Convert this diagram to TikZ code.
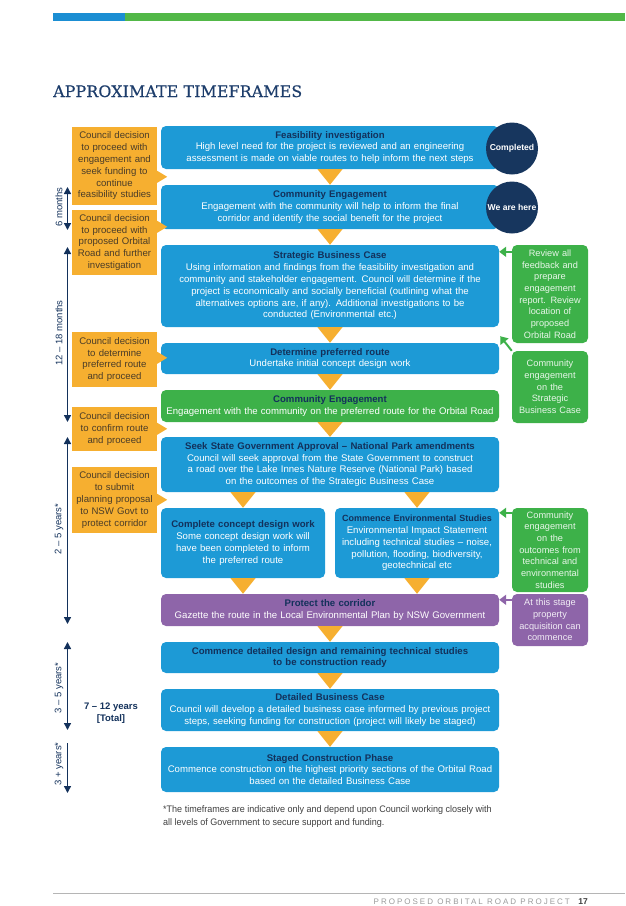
\documentclass[tikz,border=0pt]{standalone}
\usepackage{fontspec}
\setmainfont{Liberation Sans}
\newfontfamily\titlefont[LetterSpace=1,FakeBold=0.6]{DejaVu Serif}
\newfontfamily\condfont[FakeStretch=0.95]{Liberation Sans}
\newfontfamily\footfont[LetterSpace=25]{Liberation Sans}
\usetikzlibrary{arrows.meta,calc}
\definecolor{cbarblue}{HTML}{1B8ED3}
\definecolor{cbargreen}{HTML}{52B848}
\definecolor{ctitle}{HTML}{1D3D6B}
\definecolor{cblue}{HTML}{1D9AD6}
\definecolor{cnavy}{HTML}{13315B}
\definecolor{corange}{HTML}{F6AF30}
\definecolor{corangetext}{HTML}{4A3C28}
\definecolor{cgreen}{HTML}{3DB149}
\definecolor{cpurple}{HTML}{8E65A9}
\definecolor{ccircle}{HTML}{17365E}
\definecolor{cfoot}{HTML}{3F3F3F}
\definecolor{cfooter}{HTML}{9A9A9A}
\definecolor{cline}{HTML}{B5B5B5}
\newcommand\ttl[1]{\textcolor{cnavy}{\bfseries #1}}
\newcommand\flowtri[2]{\fill[corange] ($(#1)+(-12.5,0)$) -- ($(#1)+(12.5,0)$) -- (#2) -- cycle;}
\begin{document}
\begin{tikzpicture}[x=1pt,y=-1pt,
  blk/.style={inner sep=0pt, align=center, font=\fontsize{9.6}{11.8}\selectfont},
  bluebox/.style={blk, fill=cblue, text=white, rounded corners=5pt},
  greenbox/.style={blk, fill=cgreen, text=white, rounded corners=5pt},
  purplebox/.style={blk, fill=cpurple, text=white, rounded corners=5pt},
  orangebox/.style={blk, fill=corange, text=corangetext, minimum width=85pt, text width=85pt},
  sidegreen/.style={blk, fill=cgreen, text=white!88!cgreen, rounded corners=5pt, minimum width=76pt, text width=76pt, font=\fontsize{9.2}{11.7}\selectfont},
  sidepurple/.style={sidegreen, fill=cpurple, text=white!88!cpurple},
  wide/.style={minimum width=338pt, text width=338pt},
  half/.style={minimum width=164pt, text width=164pt},
  badge/.style={circle, fill=ccircle, minimum size=52pt, inner sep=0pt, text=white, font=\bfseries\fontsize{8.6}{10}\selectfont},
  tarrow/.style={cnavy, line width=1.5pt, {Triangle[length=7pt,width=7pt]}-{Triangle[length=7pt,width=7pt]}},
  tarrowend/.style={cnavy, line width=1.5pt, -{Triangle[length=7pt,width=7pt]}},
  tlabel/.style={rotate=90, inner sep=0pt, text=cnavy, font=\fontsize{9.5}{11}\selectfont},
  garrow/.style={cgreen, line width=2pt, -{Triangle[length=7pt,width=10pt]}},
  parrow/.style={cpurple, line width=2pt, -{Triangle[length=7pt,width=10pt]}}
]
\useasboundingbox (0,0) rectangle (625,906);

% top bar
\fill[cbarblue] (53,13) rectangle (125,21);
\fill[cbargreen] (125,13) rectangle (625,21);

% title
\node[anchor=base west, inner sep=0pt, text=ctitle, font=\titlefont\fontsize{15.8}{18}\selectfont] (title) at (53,97) {APPROXIMATE TIMEFRAMES};

% central flow
\node[bluebox, wide, minimum height=43pt] (feas) at (330,147.5) {\ttl{Feasibility investigation}\\High level need for the project is reviewed and an engineering\\assessment is made on viable routes to help inform the next steps};
\node[bluebox, wide, minimum height=44pt] (ce1) at (330,207) {\ttl{Community Engagement}\\Engagement with the community will help to inform the final\\corridor and identify the social benefit for the project};
\node[bluebox, wide, minimum height=82pt] (sbc) at (330,286) {\ttl{Strategic Business Case}\\Using information and findings from the feasibility investigation and\\community and stakeholder engagement. Council will determine if the\\project is economically and socially beneficial (outlining what the\\alternatives options are, if any). Additional investigations to be\\conducted (Environmental etc.)};
\node[bluebox, wide, minimum height=31pt] (dpr) at (330,358.5) {\ttl{Determine preferred route}\\Undertake initial concept design work};
\node[greenbox, wide, minimum height=32pt] (ce2) at (330,406) {\ttl{Community Engagement}\\Engagement with the community on the preferred route for the Orbital Road};
\node[bluebox, wide, minimum height=55pt] (seek) at (330,464.5) {\ttl{Seek State Government Approval – National Park amendments}\\Council will seek approval from the State Government to construct\\a road over the Lake Innes Nature Reserve (National Park) based\\on the outcomes of the Strategic Business Case};
\node[bluebox, half, minimum height=70pt] (ccd) at (243,543) {\ttl{Complete concept design work}\\Some concept design work will\\have been completed to inform\\the preferred route};
\node[bluebox, half, minimum height=70pt] (ces) at (417,543) {{\fontsize{9}{11.8}\selectfont\ttl{Commence Environmental Studies}}\\Environmental Impact Statement\\including technical studies – noise,\\pollution, flooding, biodiversity,\\geotechnical etc};
\node[purplebox, wide, minimum height=32pt] (prot) at (330,610) {\ttl{Protect the corridor}\\Gazette the route in the Local Environmental Plan by NSW Government};
\node[bluebox, wide, minimum height=31pt] (cdd) at (330,657.5) {\ttl{Commence detailed design and remaining technical studies}\\\ttl{to be construction ready}};
\node[bluebox, wide, minimum height=42pt] (dbc) at (330,710) {\ttl{Detailed Business Case}\\Council will develop a detailed business case informed by previous project\\steps, seeking funding for construction (project will likely be staged)};
\node[bluebox, wide, minimum height=45pt] (scp) at (330,769.5) {\ttl{Staged Construction Phase}\\Commence construction on the highest priority sections of the Orbital Road\\based on the detailed Business Case};

% flow triangles
\flowtri{feas.south}{ce1.north}
\flowtri{ce1.south}{sbc.north}
\flowtri{sbc.south}{dpr.north}
\flowtri{dpr.south}{ce2.north}
\flowtri{ce2.south}{seek.north}
\coordinate (sa) at (seek.south -| ccd.north);
\coordinate (sb) at (seek.south -| ces.north);
\flowtri{sa}{ccd.north}
\flowtri{sb}{ces.north}
\coordinate (pa) at (prot.north -| ccd.south);
\coordinate (pb) at (prot.north -| ces.south);
\flowtri{ccd.south}{pa}
\flowtri{ces.south}{pb}
\flowtri{prot.south}{cdd.north}
\flowtri{cdd.south}{dbc.north}
\flowtri{dbc.south}{scp.north}

% status badges
\node[badge] (done) at (512,148.5) {Completed};
\node[badge] (here) at (512,207.5) {We are here};

% council decisions
\node[orangebox, minimum height=78pt] (o1) at (114.5,166) {Council decision\\to proceed with\\engagement and\\seek funding to\\continue\\feasibility studies};
\node[orangebox, minimum height=65pt] (o2) at (114.5,242.5) {Council decision\\to proceed with\\proposed Orbital\\Road and further\\investigation};
\node[orangebox, minimum height=55pt] (o3) at (114.5,359.5) {Council decision\\to determine\\preferred route\\and proceed};
\node[orangebox, minimum height=44pt] (o4) at (114.5,429) {Council decision\\to confirm route\\and proceed};
\node[orangebox, minimum height=66pt] (o5) at (114.5,500) {Council decision\\to submit\\planning proposal\\to NSW Govt to\\protect corridor};
\fill[corange] ($(o1.north east)+(0,44)$) -- ($(o1.north east)+(10,50)$) -- ($(o1.north east)+(0,56)$) -- cycle;
\fill[corange] ($(o2.north east)+(0,11)$) -- ($(o2.north east)+(10,17)$) -- ($(o2.north east)+(0,23)$) -- cycle;
\fill[corange] ($(o3.north east)+(0,20)$) -- ($(o3.north east)+(10,26)$) -- ($(o3.north east)+(0,32)$) -- cycle;
\fill[corange] ($(o4.north east)+(0,16)$) -- ($(o4.north east)+(10,22)$) -- ($(o4.north east)+(0,28)$) -- cycle;
\fill[corange] ($(o5.north east)+(0,27)$) -- ($(o5.north east)+(10,33)$) -- ($(o5.north east)+(0,39)$) -- cycle;

% side notes
\node[sidegreen, minimum height=98pt] (r1) at (550,294) {Review all\\feedback and\\prepare\\engagement\\report. Review\\location of\\proposed\\Orbital Road};
\node[sidegreen, minimum height=72pt] (r2) at (550,387) {Community\\engagement\\on the\\Strategic\\Business Case};
\node[sidegreen, minimum height=84pt] (r3) at (550,550) {Community\\engagement\\on the\\outcomes from\\technical and\\environmental\\studies};
\node[sidepurple, minimum height=52pt] (r4) at (550,620) {At this stage\\property\\acquisition can\\commence};
\coordinate (r1s) at ($(r1.north west)+(0,7)$);
\draw[garrow] (r1s) -- (r1s -| sbc.east);
\coordinate (r2t) at ($(sbc.south east)+(1,9)$);
\draw[garrow] (r2.north west) -- (r2t);
\coordinate (r3s) at ($(r3.north west)+(0,5)$);
\draw[garrow] (r3s) -- (r3s -| ces.east);
\coordinate (r4s) at ($(r4.north west)+(0,6)$);
\draw[parrow] (r4s) -- (r4s -| prot.east);

% timeline
\coordinate (t1a) at (67.5,187); \coordinate (t1b) at (67.5,230);
\coordinate (t2a) at (67.5,247); \coordinate (t2b) at (67.5,422);
\coordinate (t3a) at (67.5,437); \coordinate (t3b) at (67.5,624);
\coordinate (t4a) at (67.5,642); \coordinate (t4b) at (67.5,730);
\coordinate (t5a) at (67.5,743); \coordinate (t5b) at (67.5,793);
\draw[tarrow] (t1a) -- (t1b);
\draw[tarrow] (t2a) -- (t2b);
\draw[tarrow] (t3a) -- (t3b);
\draw[tarrow] (t4a) -- (t4b);
\draw[tarrowend] (t5a) -- (t5b);
\node[tlabel] (l1) at (59,207) {6 months};
\node[tlabel] (l2) at (59,333) {12 – 18 months};
\node[tlabel] (l3) at (59,529) {2 – 5 years*};
\node[tlabel] (l4) at (59,688) {3 – 5 years*};
\node[tlabel] (l5) at (59,764) {3 + years*};
\node[inner sep=0pt, align=center, text=cnavy, font=\bfseries\fontsize{9.5}{11.5}\selectfont] (tot) at (111,713) {7 – 12 years\\{}[Total]};

% footnote
\node[anchor=north west, inner sep=0pt, align=left, text=cfoot, font=\condfont\fontsize{9.5}{13}\selectfont] (fn) at (163,805) {*The timeframes are indicative only and depend upon Council working closely with\\all levels of Government to secure support and funding.};

% footer
\draw[cline, line width=0.8pt] (53,893) -- (625,893);
\node[anchor=base east, inner sep=0pt, text=cfoot, font=\bfseries\fontsize{8.5}{10}\selectfont] (pg) at (588,904.5) {17};
\node[anchor=base east, inner sep=0pt, text=cfooter, font=\footfont\fontsize{8}{10}\selectfont] (ft) at (570,904.5) {PROPOSED ORBITAL ROAD PROJECT};
\end{tikzpicture}
\end{document}
